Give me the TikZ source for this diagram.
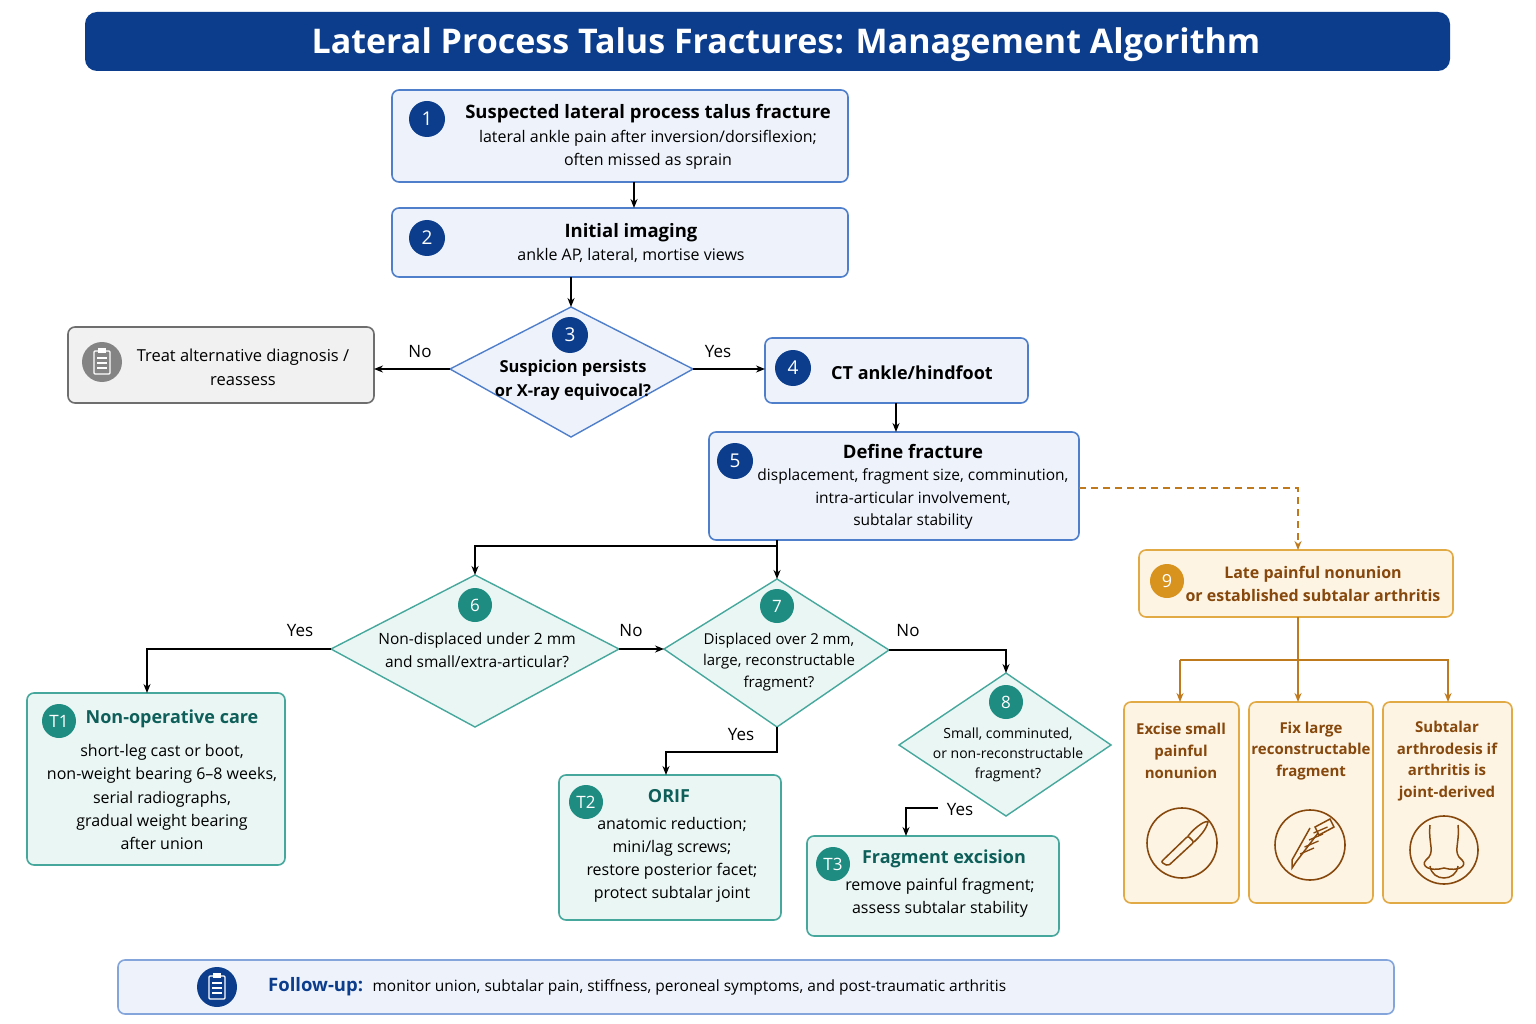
\documentclass[tikz,border=0pt]{standalone}
\usepackage{fontspec}
\setmainfont{Open Sans}[BoldFont={Open Sans Bold}]
\usetikzlibrary{shapes.geometric,arrows.meta}
\definecolor{navy}{HTML}{0B3D8C}
\definecolor{bfill}{HTML}{EEF3FB}
\definecolor{bline}{HTML}{4F7FCB}
\definecolor{teal}{HTML}{1F8C82}
\definecolor{tfill}{HTML}{EAF6F4}
\definecolor{tline}{HTML}{46A79C}
\definecolor{ttext}{HTML}{0E5F5A}
\definecolor{ofill}{HTML}{FDF4E3}
\definecolor{oline}{HTML}{E2AA45}
\definecolor{ocirc}{HTML}{D8921E}
\definecolor{otext}{HTML}{86480C}
\definecolor{oarrow}{HTML}{C07A1E}
\definecolor{gfill}{HTML}{F1F1F1}
\definecolor{gline}{HTML}{6E6E6E}
\newcommand{\fs}[1]{\fontsize{#1}{\fpeval{#1*1.45}}\selectfont}
\tikzset{x=1pt,y=-1pt,
 box/.style={draw=bline,fill=bfill,line width=1.6pt,rounded corners=7pt},
 tbox/.style={draw=tline,fill=tfill,line width=1.6pt,rounded corners=7pt},
 obox/.style={draw=oline,fill=ofill,line width=1.6pt,rounded corners=7pt},
 dia/.style={draw=#1,fill=white,line width=1.4pt},
 num/.style={circle,fill=navy,text=white,minimum size=36pt,inner sep=0pt,font=\fs{19}},
 tnum/.style={circle,fill=teal,text=white,minimum size=34pt,inner sep=0pt,font=\fs{17}},
 arr/.style={-{Stealth[length=9pt,width=7pt]},line width=1.5pt,black},
 oarr/.style={-{Stealth[length=9pt,width=7pt]},line width=1.5pt,oarrow},
 lab/.style={font=\fs{17},inner sep=0pt},
 txt/.style={align=center,inner sep=0pt,font=\fs{16}},
}
\begin{document}
\begin{tikzpicture}
\useasboundingbox (0,0) rectangle (1536,1024);
\fill[white] (0,0) rectangle (1536,1024);
% title
\fill[navy,rounded corners=12pt] (85,12) rectangle (1450,71);
\node[text=white,font=\bfseries\fs{34}] (title) at (786,45) {Lateral Process Talus Fractures: Management Algorithm};
% node 1
\draw[box] (392,90) rectangle (848,182);
\coordinate (n1s) at (634,182);
\node[num] (c1) at (427,119) {1};
\node[txt] (t1) at (648,137) {{\bfseries\fs{18.5}Suspected lateral process talus fracture}\\lateral ankle pain after inversion/dorsiflexion;\\often missed as sprain};
% node 2
\draw[box] (392,208) rectangle (848,277);
\coordinate (n2n) at (634,208);\coordinate (n2s) at (571,277);
\node[num] (c2) at (427,238) {2};
\node[txt] (t2) at (631,243) {{\bfseries\fs{18.5}Initial imaging}\\ankle AP, lateral, mortise views};
% diamond 3
\draw[dia=bline,fill=bfill] (571,307) coordinate (d3n) -- (693,369) coordinate (d3e) -- (571,437) -- (450,369) coordinate (d3w) -- cycle;
\node[num] (c3) at (570,335) {3};
\node[txt,font=\bfseries\fs{16.5}] (t3) at (573,380) {Suspicion persists\\or X-ray equivocal?};
% alt
\draw[draw=gline,fill=gfill,line width=1.6pt,rounded corners=7pt] (68,327) rectangle (374,403);
\coordinate (alte) at (374,369);
\node[circle,fill=gline!85,minimum size=40pt] (ic1) at (102,362) {};
\draw[white,line width=1.3pt,rounded corners=1pt] (94,351) rectangle (110,374);
\fill[white] (98,348) rectangle (106,353);
\foreach \yy in {358,363,368} \draw[white,line width=1.1pt] (97,\yy)--(107,\yy);
\node[txt,font=\fs{16.5}] (talt) at (243,367) {Treat alternative diagnosis /\\reassess};
% node 4
\draw[box] (765,338) rectangle (1028,403);
\coordinate (n4w) at (765,369);\coordinate (n4s) at (896,403);
\node[num] (c4) at (793,368) {4};
\node[txt,font=\bfseries\fs{18}] (t4) at (912,373) {CT ankle/hindfoot};
% node 5
\draw[box] (709,432) rectangle (1079,540);
\coordinate (n5n) at (896,432);\coordinate (n5s) at (777,540);\coordinate (n5e) at (1079,488);
\node[num] (c5) at (735,461) {5};
\node[txt,font=\fs{15.5}] (t5) at (913,487) {{\bfseries\fs{18.5}Define fracture}\\displacement, fragment size, comminution,\\intra-articular involvement,\\subtalar stability};
% diamond 6
\draw[dia=tline,fill=tfill] (475,575) coordinate (d6n) -- (619,649) coordinate (d6e) -- (475,727) -- (331,649) coordinate (d6w) -- cycle;
\node[tnum] (c6) at (475,605) {6};
\node[txt,font=\fs{15.5}] (t6) at (477,650) {Non-displaced under 2 mm\\and small/extra-articular?};
% diamond 7
\draw[dia=tline,fill=tfill] (777,579) coordinate (d7n) -- (889,650) coordinate (d7e) -- (777,727) coordinate (d7s) -- (664,649) coordinate (d7w) -- cycle;
\node[tnum] (c7) at (777,606) {7};
\node[txt,font=\fs{15}] (t7) at (779,662) {Displaced over 2 mm,\\large, reconstructable\\fragment?};
% diamond 8
\draw[dia=tline,fill=tfill] (1006,673) coordinate (d8n) -- (1111,745) -- (1006,816) -- (899,745) -- cycle;
\coordinate (d8y) at (938,808);
\node[tnum] (c8) at (1006,702) {8};
\node[txt,font=\fs{14}] (t8) at (1008,755) {Small, comminuted,\\or non-reconstructable\\fragment?};
% T1
\draw[tbox] (27,693) rectangle (285,865);
\coordinate (T1n) at (147,693);
\node[tnum] (cT1) at (59,721) {T1};
\node[txt,font=\bfseries\fs{18},text=ttext] (hT1) at (172,719) {Non-operative care};
\node[txt,font=\fs{16}] (bT1) at (162,797) {short-leg cast or boot,\\non-weight bearing 6–8 weeks,\\serial radiographs,\\gradual weight bearing\\after union};
% T2
\draw[tbox] (559,775) rectangle (781,920);
\coordinate (T2n) at (666,775);
\node[tnum] (cT2) at (586,802) {T2};
\node[txt,font=\bfseries\fs{18},text=ttext] (hT2) at (669,796) {ORIF};
\node[txt,font=\fs{16}] (bT2) at (672,860) {anatomic reduction;\\mini/lag screws;\\restore posterior facet;\\protect subtalar joint};
% T3
\draw[tbox] (807,836) rectangle (1059,936);
\coordinate (T3n) at (906,836);
\node[tnum] (cT3) at (833,864) {T3};
\node[txt,font=\bfseries\fs{18},text=ttext] (hT3) at (944,859) {Fragment excision};
\node[txt,font=\fs{16}] (bT3) at (940,898) {remove painful fragment;\\assess subtalar stability};
% node 9
\draw[obox] (1139,550) rectangle (1453,617);
\coordinate (n9n) at (1298,550);\coordinate (n9s) at (1298,617);
\node[circle,fill=ocirc,text=white,minimum size=34pt,inner sep=0pt,font=\fs{18}] (c9) at (1167,581) {9};
\node[txt,font=\bfseries\fs{16},text=otext] (t9) at (1313,584) {Late painful nonunion\\or established subtalar arthritis};
% three orange boxes
\draw[obox] (1124,702) rectangle (1239,903);
\draw[obox] (1249,702) rectangle (1373,903);
\draw[obox] (1383,702) rectangle (1512,903);
\coordinate (oa) at (1180,702);\coordinate (ob) at (1298,702);\coordinate (oc) at (1448,702);
\node[txt,font=\bfseries\fs{15},text=otext] (ta) at (1181,751) {Excise small\\painful\\nonunion};
\node[txt,font=\bfseries\fs{15},text=otext] (tb) at (1311,751) {Fix large\\reconstructable\\fragment};
\node[txt,font=\bfseries\fs{15},text=otext] (tc) at (1447,761) {Subtalar\\arthrodesis if\\arthritis is\\joint-derived};
\draw[otext,line width=1.6pt] (1182,843) circle (35);
\draw[otext,line width=1.6pt] (1310,845) circle (35);
\draw[otext,line width=1.6pt] (1444,850) circle (34);
% scalpel
\draw[otext,line width=1.5pt,rounded corners=2pt] (1161,862)--(1188,836)--(1194,842)--(1168,866)--cycle;
\draw[otext,line width=1.5pt] (1188,836) .. controls (1196,826) and (1206,820) .. (1208,822) .. controls (1206,830) and (1200,836) .. (1194,842);
% screw
\draw[otext,line width=1.5pt] (1315,827)--(1330,819)--(1334,827)--(1319,835)--cycle;
\draw[otext,line width=1.5pt] (1318,833)--(1296,862)--(1292,868)--(1292,860)--(1310,828);
\foreach \k in {0,1,2,3} \draw[otext,line width=1.3pt] (1300+\k*4.5,854-\k*7) -- (1314+\k*4.5,848-\k*7);
% joint
\draw[otext,line width=1.5pt] (1430,825) .. controls (1428,845) and (1436,852) .. (1426,860) .. controls (1420,866) and (1430,872) .. (1444,868) .. controls (1458,872) and (1468,866) .. (1462,860) .. controls (1452,852) and (1460,845) .. (1458,825);
\draw[otext,line width=1.5pt] (1430,866) .. controls (1432,882) and (1456,882) .. (1458,866);
% follow up
\draw[draw=bline!70,fill=bfill,line width=1.6pt,rounded corners=7pt] (118,960) rectangle (1394,1014);
\node[circle,fill=navy,minimum size=40pt] (ic2) at (217,987) {};
\draw[white,line width=1.3pt,rounded corners=1pt] (209,976) rectangle (225,999);
\fill[white] (213,973) rectangle (221,978);
\foreach \yy in {983,988,993} \draw[white,line width=1.1pt] (212,\yy)--(222,\yy);
\node[anchor=west,inner sep=0pt,font=\fs{15.5}] (fu) at (268,987) {{\bfseries\fs{18.5}\color{navy}Follow-up:} \ monitor union, subtalar pain, stiffness, peroneal symptoms, and post-traumatic arthritis};
% connectors
\draw[arr] (n1s) -- (n2n);
\draw[arr] (n2s) -- (d3n);
\draw[arr] (d3w) -- (alte);
\draw[arr] (d3e) -- (n4w);
\draw[arr] (n4s) -- (n5n);
\draw[arr] (n5s) -- (d7n);
\draw[arr] (n5s |- 0,546) -| (d6n);
\draw[oarr,dashed,dash pattern=on 7pt off 5pt] (n5e) -| (n9n);
\draw[arr] (d6w) -| (T1n);
\draw[arr] (d6e) -- (d7w);
\draw[arr] (d7e) -| (d8n);
\draw[arr] (d7s) -- (777,752) -| (T2n);
\draw[arr] (d8y) -| (T3n);
\draw[line width=1.5pt,oarrow] (n9s) -- (1298,660);
\draw[oarr] (1180,660) -- (oa);
\draw[oarr] (1298,660) -- (ob);
\draw[oarr] (1180,660) -- (1448,660) -- (oc);
% labels
\node[lab] (l1) at (420,352) {No};
\node[lab] (l2) at (718,352) {Yes};
\node[lab] (l3) at (300,631) {Yes};
\node[lab] (l4) at (631,631) {No};
\node[lab] (l5) at (908,631) {No};
\node[lab] (l6) at (741,735) {Yes};
\node[lab] (l7) at (960,810) {Yes};
\end{tikzpicture}
\end{document}
